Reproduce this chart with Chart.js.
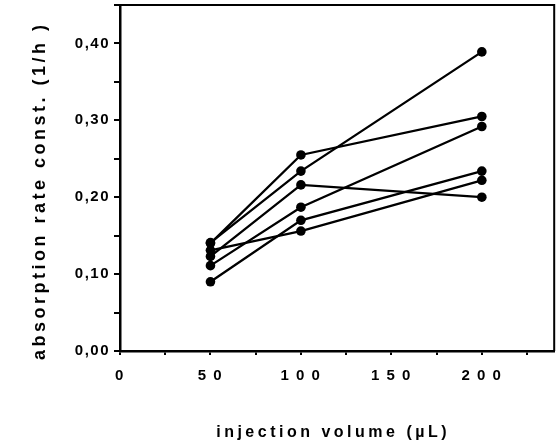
<!DOCTYPE html>
<html>
<head>
<meta charset="utf-8">
<script src="https://cdn.jsdelivr.net/npm/chart.js@4.4.1/dist/chart.umd.min.js"></script>
<style>
  html, body { margin: 0; padding: 0; background: #fff; }
  #wrap { width: 559px; height: 448px; }
</style>
</head>
<body>
<div id="wrap"><canvas id="chart"></canvas></div>
<script>
// injection volumes (µL) and one absorption rate constant series per animal (1/h)
const volumes = [50, 100, 200];
const animal1 = [0.141, 0.234, 0.389];
const animal2 = [0.140, 0.255, 0.305];
const animal3 = [0.123, 0.216, 0.200];
const animal4 = [0.111, 0.187, 0.292];
const animal5 = [0.090, 0.170, 0.234];
const animal6 = [0.131, 0.156, 0.222];
const allSeries = [animal1, animal2, animal3, animal4, animal5, animal6];

const xLabelled = [0, 50, 100, 150, 200];
const yLabelled = [0, 0.1, 0.2, 0.3, 0.4];

const FONT = "'Liberation Sans', Arial, sans-serif";

// spaced-out lettering like the scanned figure
const spacing = {
  id: 'spacing',
  beforeDraw: (chart) => { chart.ctx.letterSpacing = '1.5px'; },
  afterDatasetsDraw: (chart) => { chart.ctx.letterSpacing = '3.5px'; }
};

// closed frame around the plot area
const frame = {
  id: 'frame',
  afterDraw: (chart) => {
    const { ctx, chartArea: a } = chart;
    ctx.save();
    ctx.strokeStyle = '#000';
    ctx.lineWidth = 2;
    ctx.beginPath();
    ctx.moveTo(a.left, a.top);
    ctx.lineTo(a.right, a.top);
    ctx.lineTo(a.right, a.bottom);
    ctx.stroke();
    ctx.restore();
  }
};

const near = (v, list) => list.some(t => Math.abs(t - v) < 1e-6);

new Chart(document.getElementById('chart'), {
  type: 'line',
  data: {
    datasets: allSeries.map(s => ({
      data: s.map((y, i) => ({ x: volumes[i], y })),
      borderColor: '#000',
      backgroundColor: '#000',
      borderWidth: 2.3,
      pointRadius: 4.8,
      pointBorderWidth: 0,
      pointBackgroundColor: '#000',
      tension: 0
    }))
  },
  options: {
    responsive: true,
    maintainAspectRatio: false,
    animation: false,
    layout: { padding: { top: 5, right: 3, left: 0, bottom: 0 } },
    plugins: { legend: { display: false }, tooltip: { enabled: false } },
    scales: {
      x: {
        type: 'linear',
        min: 0,
        max: 240,
        afterFit: (s) => { s.height = 97; s.paddingLeft = 0; s.paddingRight = 0; },
        border: { color: '#000', width: 2.5, z: 2 },
        grid: { drawOnChartArea: false, color: '#000', lineWidth: 2, tickLength: 4, z: 1 },
        ticks: {
          stepSize: 25,
          includeBounds: false,
          autoSkip: false,
          maxRotation: 0,
          padding: 12,
          color: '#000',
          font: { family: FONT, size: 15, weight: 'bold' },
          callback: (v) => near(v, xLabelled) ? String(v).split('').join(' ') : ''
        },
        title: {
          display: true,
          text: 'injection volume (\u00b5L) ',
          color: '#000',
          font: { family: FONT, size: 16, weight: 'bold' },
          padding: { top: 0, bottom: 6 }
        }
      },
      y: {
        min: 0,
        max: 0.45,
        afterFit: (s) => { s.width = 120; s.paddingTop = 0; s.paddingBottom = 0; },
        border: { color: '#000', width: 2.5, z: 2 },
        grid: { drawOnChartArea: false, color: '#000', lineWidth: 2, tickLength: 6, z: 1 },
        ticks: {
          stepSize: 0.05,
          includeBounds: false,
          autoSkip: false,
          padding: 4,
          color: '#000',
          font: { family: FONT, size: 15, weight: 'bold' },
          callback: (v) => near(v, yLabelled) ? v.toFixed(2).replace('.', ',') : ''
        },
        title: {
          display: true,
          text: 'absorption rate const. (1/h )   ',
          color: '#000',
          font: { family: FONT, size: 18, weight: 'bold' },
          padding: { top: 29, bottom: 0 }
        }
      }
    }
  },
  plugins: [spacing, frame]
});
</script>
</body>
</html>
